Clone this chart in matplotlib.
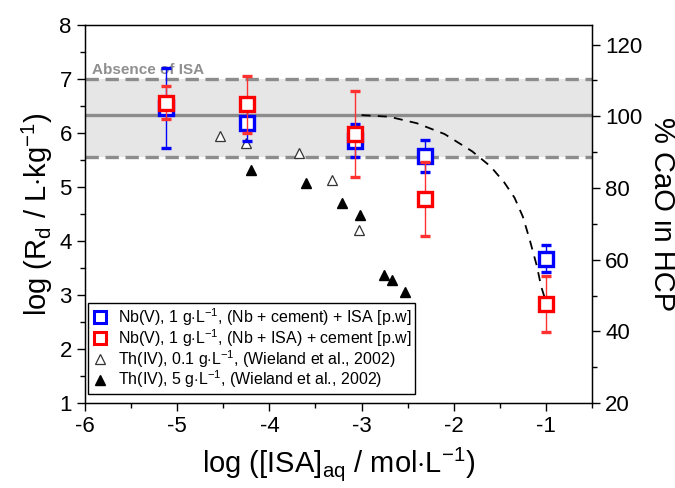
import matplotlib
matplotlib.use("Agg")
import matplotlib.pyplot as plt
from matplotlib.ticker import MultipleLocator
from matplotlib.lines import Line2D

plt.rcParams['font.family'] = ['Liberation Sans', 'DejaVu Sans']
plt.rcParams['mathtext.fontset'] = 'custom'
plt.rcParams['mathtext.rm'] = 'Liberation Sans'
plt.rcParams['mathtext.it'] = 'Liberation Sans:italic'
plt.rcParams['axes.unicode_minus'] = False

# Nb(V), (Nb + cement) + ISA
blue_x = [-5.12, -4.24, -3.07, -2.31, -1.0]
blue_y = [6.46, 6.18, 5.86, 5.57, 3.67]
blue_err = [0.74, 0.32, 0.30, 0.30, 0.25]

# Nb(V), (Nb + ISA) + cement
red_x = [-5.12, -4.24, -3.07, -2.31, -1.0]
red_y = [6.56, 6.53, 5.98, 4.78, 2.83]
red_err = [0.30, 0.53, 0.80, 0.69, 0.52]

# Th(IV) 0.1 g/L (Wieland et al., 2002)
th01_x = [-4.54, -4.25, -3.68, -3.32, -3.03]
th01_y = [5.94, 5.81, 5.62, 5.13, 4.20]

# Th(IV) 5 g/L (Wieland et al., 2002)
th5_x = [-4.20, -3.60, -3.21, -3.02, -2.76, -2.67, -2.53]
th5_y = [5.31, 5.07, 4.70, 4.48, 3.37, 3.27, 3.05]

# dashed trend curve
curve_x = [-3.0, -2.7, -2.4, -2.1, -1.8, -1.6, -1.45, -1.34, -1.25, -1.18, -1.1, -1.05, -1.0]
curve_y = [6.33, 6.30, 6.18, 5.98, 5.66, 5.38, 5.08, 4.80, 4.45, 4.05, 3.55, 3.15, 2.88]

band_low, band_high, band_mid = 5.55, 7.0, 6.33

labels = [r'Nb(V), 1 g$\cdot$L$^{-1}$, (Nb + cement) + ISA [p.w]',
          r'Nb(V), 1 g$\cdot$L$^{-1}$, (Nb + ISA) + cement [p.w]',
          r'Th(IV), 0.1 g$\cdot$L$^{-1}$, (Wieland et al., 2002)',
          r'Th(IV), 5 g$\cdot$L$^{-1}$, (Wieland et al., 2002)']

fig = plt.figure(figsize=(6.75, 4.88), dpi=100)
ax = fig.add_axes([0.126, 0.174, 0.751, 0.775])

ax.set_xlim(-6, -0.5)
ax.set_ylim(1, 8)

gray = '#8c8c8c'
ax.axhspan(band_low, band_high, color='#e6e6e6', zorder=0, lw=0)
ax.axhline(band_low, color=gray, lw=2.4, ls=(0, (4, 2)), zorder=1)
ax.axhline(band_high, color=gray, lw=2.4, ls=(0, (4, 2)), zorder=1)
ax.axhline(band_mid, color=gray, lw=2.4, zorder=1)
ax.text(-5.93, 7.17, 'Absence of ISA', color='#8f8f8f', fontsize=11, fontweight='bold',
        va='center', ha='left', zorder=2)

ax.plot(curve_x, curve_y, color='black', lw=1.3, ls=(0, (5, 4)), zorder=2)

ax.errorbar(blue_x, blue_y, yerr=blue_err, fmt='s', mfc='white', mec='#0000ff', mew=2.4,
            ms=10.5, ecolor='#0000ff', elinewidth=1.0, capsize=3.5, capthick=1.0, zorder=4)
ax.errorbar(red_x, red_y, yerr=red_err, fmt='s', mfc='white', mec='#ff0000', mew=2.4,
            ms=10.5, ecolor='#ff3030', elinewidth=1.0, capsize=3.5, capthick=1.0, zorder=5)
ax.plot(th01_x, th01_y, '^', mfc='white', mec='#333333', mew=0.9, ms=7.5, ls='none', zorder=3)
ax.plot(th5_x, th5_y, '^', mfc='black', mec='black', ms=7.5, ls='none', zorder=3)

handles = [
    Line2D([], [], ls='none', marker='s', mfc='white', mec='#0000ff', mew=2.2, ms=9),
    Line2D([], [], ls='none', marker='s', mfc='white', mec='#ff0000', mew=2.2, ms=9),
    Line2D([], [], ls='none', marker='^', mfc='white', mec='#333333', mew=0.9, ms=7),
    Line2D([], [], ls='none', marker='^', mfc='black', mec='black', ms=7),
]

ax.xaxis.set_major_locator(MultipleLocator(1))
ax.xaxis.set_minor_locator(MultipleLocator(0.5))
ax.yaxis.set_major_locator(MultipleLocator(1))
ax.yaxis.set_minor_locator(MultipleLocator(0.5))
ax.tick_params(axis='both', which='major', direction='out', length=6, width=1, labelsize=16)
ax.tick_params(axis='both', which='minor', direction='out', length=3.5, width=1)
for s in ax.spines.values():
    s.set_linewidth(1.0)

ax.set_xlabel(r'log ([ISA]$_{\mathrm{aq}}$ / mol$\cdot$L$^{-1}$)', fontsize=21, labelpad=6)
ax.set_ylabel(r'log (R$_{\mathrm{d}}$ / L$\cdot$kg$^{-1}$)', fontsize=21, labelpad=3)

ax2 = ax.twinx()
ax2.set_ylim(20, 125.5)
ax2.yaxis.set_major_locator(MultipleLocator(20))
ax2.yaxis.set_minor_locator(MultipleLocator(10))
ax2.tick_params(axis='y', which='major', direction='out', length=6, width=1, labelsize=16)
ax2.tick_params(axis='y', which='minor', direction='out', length=3.5, width=1)
ax2.set_ylabel('% CaO in HCP', fontsize=21, rotation=-90, labelpad=24)

leg = ax.legend(handles, labels, loc='lower left', bbox_to_anchor=(0.005, 0.025), borderaxespad=0,
                fontsize=11.5, frameon=True, fancybox=False, framealpha=1,
                edgecolor='black', handlelength=1.2, handletextpad=0.5,
                labelspacing=-0.05, borderpad=0.2)
leg.get_frame().set_linewidth(1.0)
leg.set_zorder(10)

fig.savefig('out.png', dpi=100)
